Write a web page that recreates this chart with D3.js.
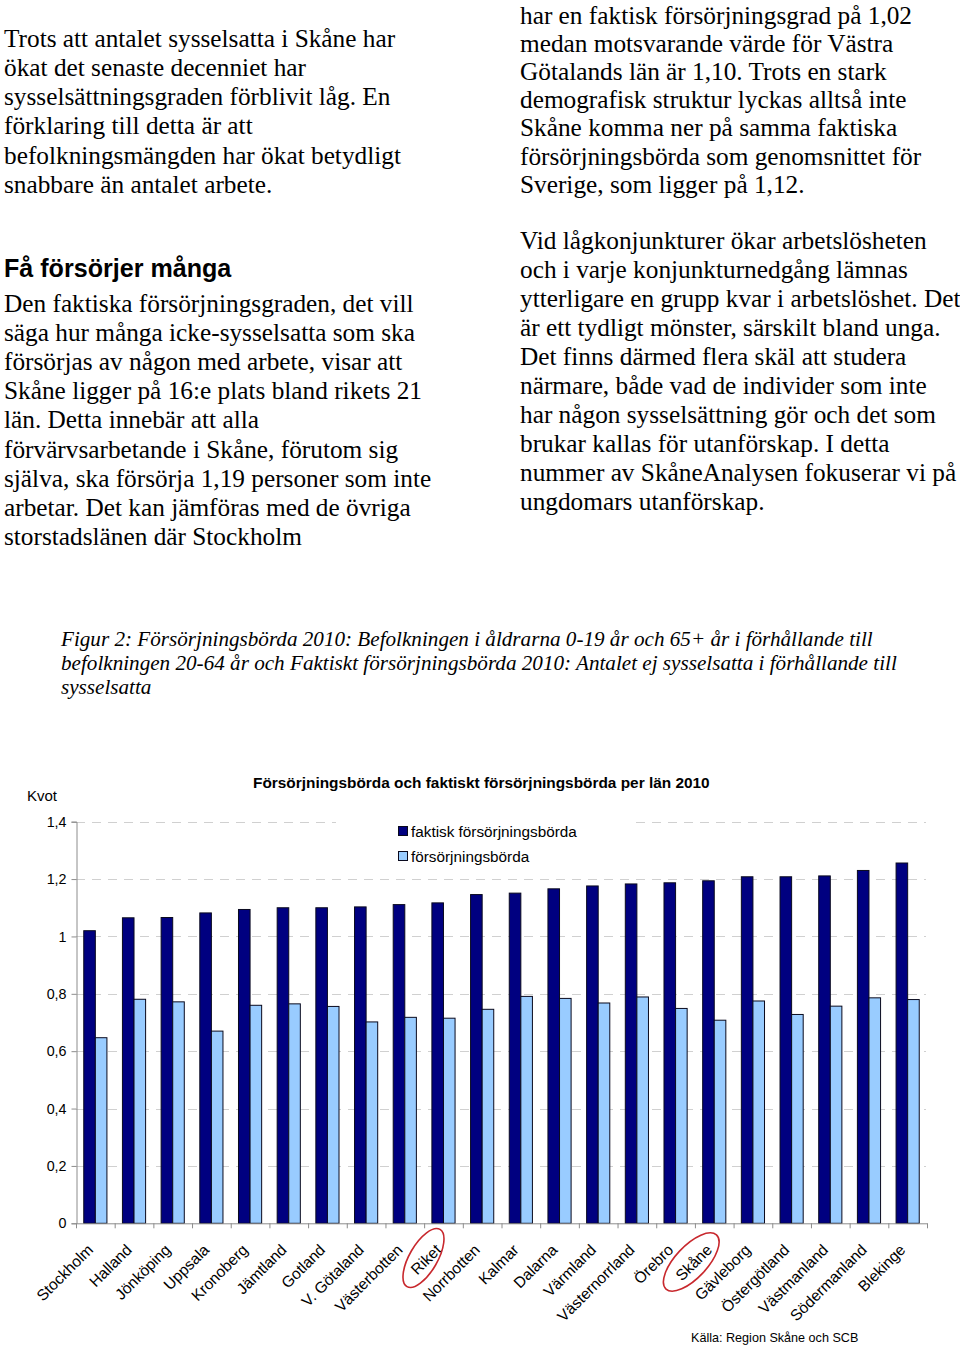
<!DOCTYPE html>
<html>
<head>
<meta charset="utf-8">
<script src="https://cdn.jsdelivr.net/npm/d3@7"></script>
<style>
  html, body { margin: 0; padding: 0; background: #fff; }
  svg { display: block; }
</style>
</head>
<body>
<svg id="page" width="960" height="1345"></svg>
<script>
// ---------- Data ----------
const categories = ["Stockholm","Halland","Jönköping","Uppsala","Kronoberg","Jämtland","Gotland","V. Götaland","Västerbotten","Riket","Norrbotten","Kalmar","Dalarna","Värmland","Västernorrland","Örebro","Skåne","Gävleborg","Östergötland","Västmanland","Södermanland","Blekinge"];
const faktiskValues = [1.02,1.065,1.066,1.082,1.094,1.10,1.10,1.103,1.111,1.117,1.146,1.151,1.166,1.176,1.183,1.187,1.194,1.208,1.208,1.211,1.230,1.256];
const forsorjValues = [0.647,0.781,0.772,0.670,0.760,0.765,0.756,0.702,0.718,0.715,0.746,0.791,0.784,0.768,0.789,0.749,0.708,0.775,0.728,0.757,0.786,0.780];
const seriesNames = ["faktisk försörjningsbörda","försörjningsbörda"];
const yTicks = [0,0.2,0.4,0.6,0.8,1,1.2,1.4];
const highlighted = ["Riket","Skåne"];

const chartTitle = "Försörjningsbörda och faktiskt försörjningsbörda per län 2010";
const yAxisTitle = "Kvot";
const sourceText = "Källa: Region Skåne och SCB";

const leftTop = ["Trots att antalet sysselsatta i Skåne har","ökat det senaste decenniet har","sysselsättningsgraden förblivit låg. En","förklaring till detta är att","befolkningsmängden har ökat betydligt","snabbare än antalet arbete."];
const heading = "Få försörjer många";
const leftBottom = ["Den faktiska försörjningsgraden, det vill","säga hur många icke-sysselsatta som ska","försörjas av någon med arbete, visar att","Skåne ligger på 16:e plats bland rikets 21","län. Detta innebär att alla","förvärvsarbetande i Skåne, förutom sig","själva, ska försörja 1,19 personer som inte","arbetar. Det kan jämföras med de övriga","storstadslänen där Stockholm"];
const rightTop = ["har en faktisk försörjningsgrad på 1,02","medan motsvarande värde för Västra","Götalands län är 1,10. Trots en stark","demografisk struktur lyckas alltså inte","Skåne komma ner på samma faktiska","försörjningsbörda som genomsnittet för","Sverige, som ligger på 1,12."];
const rightBottom = ["Vid lågkonjunkturer ökar arbetslösheten","och i varje konjunkturnedgång lämnas","ytterligare en grupp kvar i arbetslöshet. Det","är ett tydligt mönster, särskilt bland unga.","Det finns därmed flera skäl att studera","närmare, både vad de individer som inte","har någon sysselsättning gör och det som","brukar kallas för utanförskap. I detta","nummer av SkåneAnalysen fokuserar vi på","ungdomars utanförskap."];
const captionLines = ["Figur 2: Försörjningsbörda 2010: Befolkningen i åldrarna 0-19 år och 65+ år i förhållande till","befolkningen 20-64 år och Faktiskt försörjningsbörda 2010: Antalet ej sysselsatta i förhållande till","sysselsatta"];

// ---------- Page text ----------
const svg = d3.select("#page");
const serif = "'Liberation Serif', 'Times New Roman', serif";
const sans = "'Liberation Sans', Arial, sans-serif";

function block(lines, x, y0, step, font, size, style, weight) {
  svg.append("g").selectAll("text").data(lines).join("text")
    .attr("x", x).attr("y", (d, i) => y0 + i * step)
    .attr("font-family", font).attr("font-size", size)
    .attr("font-style", style || "normal").attr("font-weight", weight || "normal")
    .attr("fill", "#000").text(d => d);
}
block(leftTop, 4, 46.7, 29.2, serif, 25.3);
svg.append("text").attr("x", 4).attr("y", 277).attr("font-family", sans)
  .attr("font-size", 25.1).attr("font-weight", "bold").text(heading);
block(leftBottom, 4, 311.7, 29.17, serif, 25.3);
block(rightTop, 520, 23.5, 28.2, serif, 25.3);
block(rightBottom, 520, 249, 29.0, serif, 25.3);
block(captionLines, 61, 646, 24, serif, 21.15, "italic");

// ---------- Chart ----------
const x0 = 76, x1 = 927, yBase = 1223.3, yTop = 821.7;
const x = d3.scaleBand().domain(categories).range([x0, x1]).padding(0);
const xs = d3.scaleBand().domain(seriesNames).range([0, x.bandwidth()]).paddingInner(0).paddingOuter(0.67);
const y = d3.scaleLinear().domain([0, 1.4]).range([yBase, yTop]);

const chart = svg.append("g");

// gridlines
chart.append("g").selectAll("line").data(yTicks.filter(t => t > 0)).join("line")
  .attr("x1", x0).attr("x2", x1 - 1)
  .attr("y1", d => Math.round(y(d)) + 0.5).attr("y2", d => Math.round(y(d)) + 0.5)
  .attr("stroke", "#d0d0d0").attr("stroke-width", 1).attr("stroke-dasharray", "9,7");

// legend background (covers gridline)
chart.append("rect").attr("x", 336).attr("y", 812).attr("width", 300).attr("height", 58).attr("fill", "#fff");

// y axis
const yAxis = d3.axisLeft(y).tickValues(yTicks).tickSize(5).tickPadding(5)
  .tickFormat(d => d3.format(".1~f")(d).replace(".", ","));
const gy = chart.append("g").attr("transform", `translate(${x0 + 0.5},0)`).call(yAxis);
gy.select(".domain").attr("stroke", "#8c8c8c");
gy.selectAll(".tick line").attr("stroke", "#8c8c8c");
gy.selectAll(".tick text").attr("font-family", sans).attr("font-size", 14.3).attr("fill", "#000");

// bars
const groups = chart.append("g").selectAll("g").data(categories).join("g")
  .attr("transform", d => `translate(${x(d)},0)`);
const colors = { "faktisk försörjningsbörda": "#000080", "försörjningsbörda": "#99ccff" };
groups.selectAll("rect").data((d, i) => [
    { s: seriesNames[0], v: faktiskValues[i] },
    { s: seriesNames[1], v: forsorjValues[i] }])
  .join("rect")
  .attr("x", d => xs(d.s)).attr("width", xs.bandwidth())
  .attr("y", d => y(d.v)).attr("height", d => yBase - y(d.v))
  .attr("fill", d => colors[d.s]).attr("stroke", "#0a0a1e").attr("stroke-width", 1);

// x axis
const xAxis = d3.axisBottom(x).tickSize(0).tickFormat("");
const gx = chart.append("g").attr("transform", `translate(0,${yBase})`).call(xAxis);
gx.select(".domain").attr("stroke", "#8c8c8c");
gx.selectAll(".tick").remove();
gx.append("g").selectAll("line").data(d3.range(categories.length + 1)).join("line")
  .attr("x1", i => x0 + i * x.step() + 0.5).attr("x2", i => x0 + i * x.step() + 0.5)
  .attr("y1", 0).attr("y2", 5).attr("stroke", "#8c8c8c");

// x labels
chart.append("g").selectAll("text").data(categories).join("text")
  .attr("transform", d => `translate(${x(d) + x.bandwidth() / 2 - 9},${1243}) rotate(-45)`)
  .attr("text-anchor", "end").attr("dy", "0.71em")
  .attr("font-family", sans).attr("font-size", 15.5).attr("fill", "#000")
  .text(d => d);

// highlight ellipses
const ellipseSpec = { "Riket": { dx: -20, dy: 15, rx: 33, ry: 14, rot: -60 },
                      "Skåne": { dx: -23, dy: 19, rx: 37, ry: 16, rot: -47 } };
chart.append("g").selectAll("ellipse").data(highlighted).join("ellipse")
  .attr("transform", d => `translate(${x(d) + x.bandwidth() / 2 + ellipseSpec[d].dx},${1243 + ellipseSpec[d].dy}) rotate(${ellipseSpec[d].rot})`)
  .attr("rx", d => ellipseSpec[d].rx).attr("ry", d => ellipseSpec[d].ry)
  .attr("fill", "none").attr("stroke", "#c8282d").attr("stroke-width", 1.6);

// titles
chart.append("text").attr("x", 253).attr("y", 788).attr("font-family", sans)
  .attr("font-size", 15.4).attr("font-weight", "bold").text(chartTitle);
chart.append("text").attr("x", 27).attr("y", 801).attr("font-family", sans)
  .attr("font-size", 15).text(yAxisTitle);

// legend
const lg = chart.append("g").selectAll("g").data(seriesNames).join("g")
  .attr("transform", (d, i) => `translate(398,${826 + i * 25})`);
lg.append("rect").attr("x", 0.5).attr("y", 0.5).attr("width", 9).attr("height", 9)
  .attr("fill", d => colors[d]).attr("stroke", "#0a0a1e");
lg.append("text").attr("x", 13).attr("y", 10.5).attr("font-family", sans)
  .attr("font-size", 15.3).text(d => d);

// source
chart.append("text").attr("x", 691).attr("y", 1342).attr("font-family", sans)
  .attr("font-size", 12.6).text(sourceText);
</script>
</body>
</html>
